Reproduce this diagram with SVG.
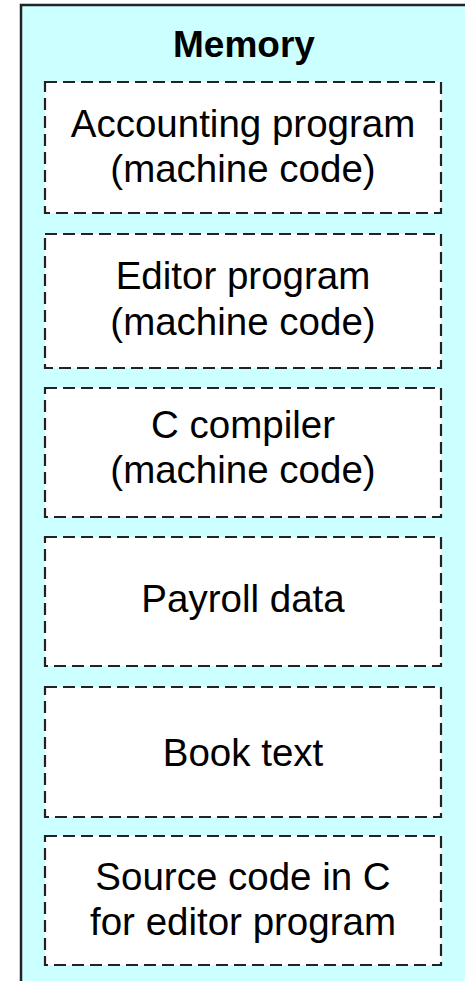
<svg xmlns="http://www.w3.org/2000/svg" width="465" height="981" viewBox="0 0 465 981">
<style>
.outer{fill:#ccffff;stroke:#222;stroke-width:2.5}
.box{fill:#fff;stroke:#222;stroke-width:2.2;stroke-dasharray:12 6}
text{font-family:"Liberation Sans",Arial,sans-serif;font-size:38.5px;fill:#000;text-anchor:middle}
.title{font-weight:bold;font-size:37px}
</style>
<rect width="465" height="981" fill="#fff"/>
<g id="memory">
<rect class="outer" x="21" y="5" width="460" height="990"/>
<text class="title" x="244" y="57">Memory</text>
</g>
<g id="accounting">
<rect class="box" x="45" y="82" width="396" height="131"/>
<text x="243" y="137">Accounting program</text>
<text x="243" y="182">(machine code)</text>
</g>
<g id="editor">
<rect class="box" x="45" y="234" width="396" height="134"/>
<text x="243" y="289">Editor program</text>
<text x="243" y="335">(machine code)</text>
</g>
<g id="compiler">
<rect class="box" x="45" y="388" width="396" height="129"/>
<text x="243" y="438">C compiler</text>
<text x="243" y="483">(machine code)</text>
</g>
<g id="payroll">
<rect class="box" x="45" y="537" width="396" height="129"/>
<text x="243" y="612">Payroll data</text>
</g>
<g id="book">
<rect class="box" x="45" y="687" width="396" height="130"/>
<text x="243" y="766">Book text</text>
</g>
<g id="source">
<rect class="box" x="45" y="836" width="396" height="129"/>
<text x="243" y="890">Source code in C</text>
<text x="243" y="935">for editor program</text>
</g>
<g id="connectors"></g>
</svg>
